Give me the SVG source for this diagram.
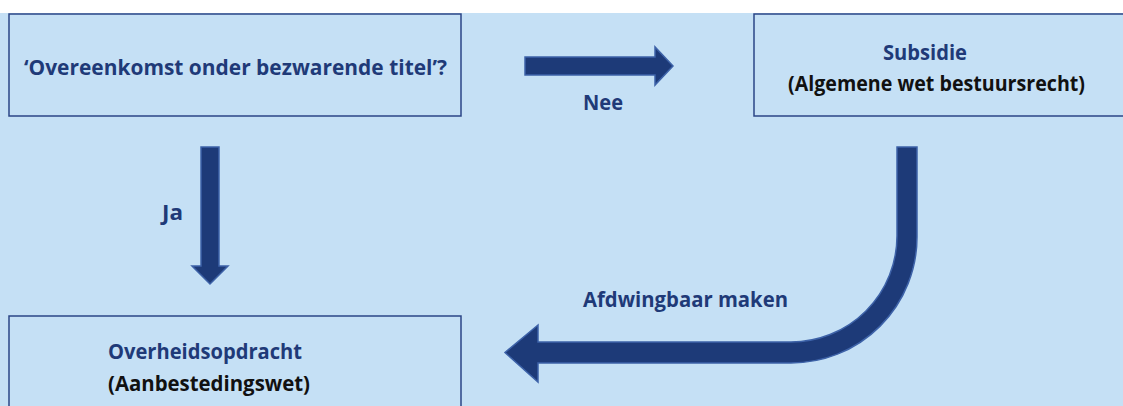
<svg xmlns="http://www.w3.org/2000/svg" width="1123" height="406" viewBox="0 0 1123 406">
<style>
.box{fill:#c5e0f5;stroke:#2b4586;stroke-width:1.5}
.arrow{fill:#1d3a78;stroke:#3d62a8;stroke-width:1.5;stroke-linejoin:miter}
.t{font-family:"Open Sans","Noto Sans","DejaVu Sans",sans-serif;font-weight:bold;font-size:21px}
.blue{fill:#1f3a78}
.black{fill:#111111}
</style>
<rect x="0" y="0" width="1123" height="406" fill="#ffffff"/>
<rect x="0" y="13" width="1123" height="393" fill="#c5e0f5"/>
<g id="node-question">
<rect class="box" x="9" y="14" width="452" height="102"/>
<text class="t blue" x="24" y="75" textLength="423" lengthAdjust="spacingAndGlyphs">‘Overeenkomst onder bezwarende titel’?</text>
</g>
<g id="node-subsidie">
<rect class="box" x="754" y="14" width="380" height="102"/>
<text class="t blue" x="925" y="60" text-anchor="middle" textLength="84" lengthAdjust="spacingAndGlyphs">Subsidie</text>
<text class="t black" x="788" y="91" textLength="297" lengthAdjust="spacingAndGlyphs">(Algemene wet bestuursrecht)</text>
</g>
<g id="node-overheid">
<rect class="box" x="9" y="316" width="452" height="100"/>
<text class="t blue" x="108" y="359" textLength="194" lengthAdjust="spacingAndGlyphs">Overheidsopdracht</text>
<text class="t black" x="108" y="391" textLength="202" lengthAdjust="spacingAndGlyphs">(Aanbestedingswet)</text>
</g>
<g id="connectors">
<path class="arrow" d="M525 57 H655 V47 L673 66 L655 85 V75 H525 Z"/>
<text class="t blue" x="603" y="110" text-anchor="middle" textLength="40" lengthAdjust="spacingAndGlyphs">Nee</text>
<path class="arrow" d="M201 147 H219 V266 H228 L210 284 L192 266 H201 Z"/>
<text class="t blue" x="162" y="220" textLength="21" lengthAdjust="spacingAndGlyphs">Ja</text>
<path class="arrow" d="M897 147 H917 V237 A126 126 0 0 1 791 363 H538 V382 L505 352.5 L538 325 V342 H791 A106 106 0 0 0 897 236 Z"/>
<text class="t blue" x="583" y="307" textLength="205" lengthAdjust="spacingAndGlyphs">Afdwingbaar maken</text>
</g>
</svg>
